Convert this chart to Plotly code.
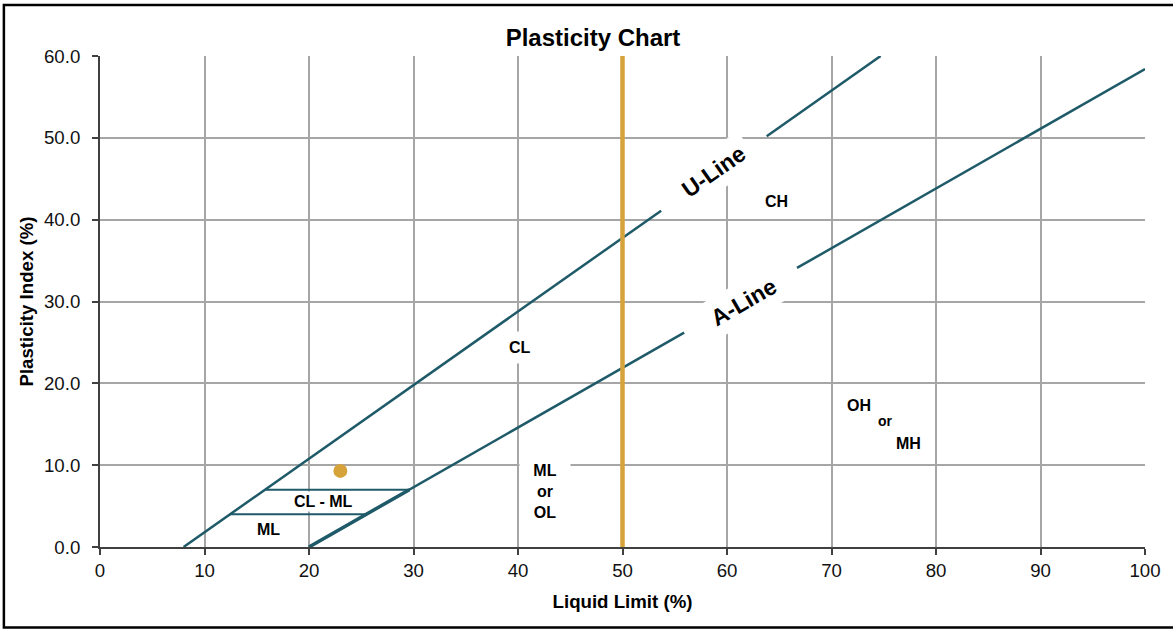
import plotly.graph_objects as go

# ---------------- data ----------------
x_ticks = [0, 10, 20, 30, 40, 50, 60, 70, 80, 90, 100]
y_ticks = [0, 10, 20, 30, 40, 50, 60]

# U-Line (two segments, gap for its label)
u_seg1_ll = [8.0, 53.7]
u_seg1_pi = [0.0, 41.1]
u_seg2_ll = [63.8, 74.7]
u_seg2_pi = [50.2, 60.0]

# A-Line (two segments, gap for its label)
a_seg1_ll = [20.0, 55.9]
a_seg1_pi = [0.0, 26.2]
a_seg2_ll = [66.7, 100.0]
a_seg2_pi = [34.1, 58.4]
a_low_ll = [20.0, 29.6]
a_low_pi = [0.0, 7.0]

# CL-ML band boundaries
clml_top_ll = [15.8, 29.6]
clml_top_pi = [7.0, 7.0]
clml_bot_ll = [12.4, 25.5]
clml_bot_pi = [4.0, 4.0]

# LL = 50 divider
ll50_ll = [50.0, 50.0]
ll50_pi = [0.0, 60.0]

# sample point
sample_ll = [23.0]
sample_pi = [9.3]

# zone labels: text, LL, PI, font size
zone_text = ["CL", "CH", "ML<br>or<br>OL", "OH", "or", "MH", "CL - ML", "ML"]
zone_ll = [40.2, 64.7, 42.6, 72.6, 75.2, 77.4, 21.4, 16.1]
zone_pi = [24.4, 42.2, 6.8, 17.35, 15.4, 12.7, 5.5, 2.1]
zone_size = [16, 16, 16, 16, 14, 16, 16, 16]
zone_pad = [7, 2, 3, 1, 1, 1, 1, 1]
zone_width = [None, None, 44, None, None, None, None, None]

line_text = ["U-Line", "A-Line"]
line_ll = [58.8, 61.6]
line_pi = [45.9, 29.9]
line_angle = [-35, -30]

# ---------------- style ----------------
TEAL = "#1F5A68"
GOLD = "#D6A23A"
FONT = "Liberation Sans, Arial, sans-serif"

fig = go.Figure()


def seg(x, y, color=TEAL, width=2.5):
    fig.add_trace(go.Scatter(x=x, y=y, mode="lines", line=dict(color=color, width=width),
                             hoverinfo="skip", showlegend=False, cliponaxis=True))


seg(u_seg1_ll, u_seg1_pi)
seg(u_seg2_ll, u_seg2_pi)
seg(a_seg1_ll, a_seg1_pi)
seg(a_seg2_ll, a_seg2_pi)
seg(a_low_ll, a_low_pi, width=3.5)
seg(clml_top_ll, clml_top_pi, width=2)
seg(clml_bot_ll, clml_bot_pi, width=2)
seg(ll50_ll, ll50_pi, color=GOLD, width=4.5)

fig.add_trace(go.Scatter(x=sample_ll, y=sample_pi, mode="markers",
                         marker=dict(color=GOLD, size=14), showlegend=False))

for t, x, y, s, p, w in zip(zone_text, zone_ll, zone_pi, zone_size, zone_pad, zone_width):
    kw = {} if w is None else {"width": w}
    fig.add_annotation(x=x, y=y, xref="x", yref="y", text="<b>" + t + "</b>", showarrow=False,
                       font=dict(family=FONT, size=s, color="black"), bgcolor="white",
                       borderpad=p, align="center", **kw)

for t, x, y, a in zip(line_text, line_ll, line_pi, line_angle):
    fig.add_annotation(x=x, y=y, xref="x", yref="y", text="<b>" + t + "</b>", showarrow=False,
                       textangle=a, font=dict(family=FONT, size=23, color="black"),
                       bgcolor="white", borderpad=6)

# outer border
fig.add_shape(type="rect", xref="paper", yref="paper",
              x0=(3.7 - 100) / 1047, x1=(1180 - 100) / 1047,
              y0=(547 - 627.5) / 491, y1=(547 - 5) / 491,
              line=dict(color="black", width=2.5), fillcolor="rgba(0,0,0,0)")

axis_common = dict(
    showgrid=True, gridcolor="#A6A6A6", gridwidth=1.6,
    showline=True, linecolor="#404040", linewidth=2,
    ticks="outside", ticklen=6, tickwidth=1.5, tickcolor="#404040",
    tickfont=dict(family=FONT, size=18.67, color="#111111"),
    zeroline=False, fixedrange=True,
)

fig.update_layout(
    width=1173, height=629, autosize=False,
    margin=dict(l=100, r=26, t=56, b=82),
    paper_bgcolor="white", plot_bgcolor="white",
    title=dict(text="<b>Plasticity Chart</b>", x=593 / 1173, xref="container", xanchor="center",
               y=1 - 38 / 629, yref="container", yanchor="middle",
               font=dict(family=FONT, size=24, color="black")),
    xaxis=dict(range=[0, 100], tickvals=x_ticks, ticktext=[str(v) for v in x_ticks],
               title=dict(text="<b>Liquid Limit (%)</b>", font=dict(family=FONT, size=18.67, color="black"),
                          standoff=15),
               **axis_common),
    yaxis=dict(range=[0, 60], tickvals=y_ticks, ticktext=[f"{v:.1f}" for v in y_ticks],
               ticklabelstandoff=8,
               title=dict(text="<b>Plasticity Index (%)</b>", font=dict(family=FONT, size=18.67, color="black"),
                          standoff=5),
               **axis_common),
    showlegend=False,
)

fig.write_html("out.html")
